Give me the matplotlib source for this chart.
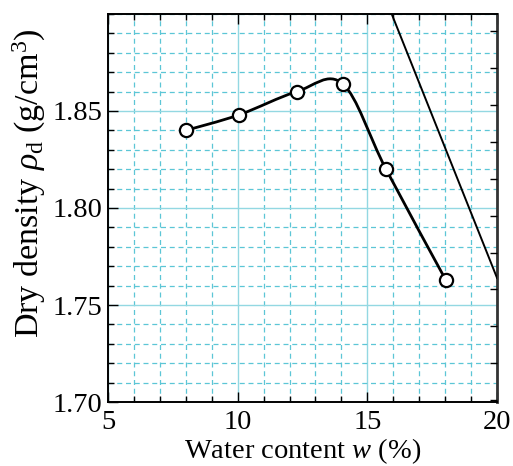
import numpy as np
import matplotlib.pyplot as plt
from matplotlib.path import Path
from matplotlib.patches import PathPatch

plt.rcParams['font.family'] = ['Liberation Serif', 'DejaVu Serif']
plt.rcParams['mathtext.fontset'] = 'custom'
plt.rcParams['mathtext.rm'] = 'Liberation Serif'
plt.rcParams['mathtext.it'] = 'Liberation Serif:italic'

# compaction test results
water_content = [8.0, 10.05, 12.28, 14.05, 15.72, 18.02]   # w (%)
dry_density = [1.840, 1.848, 1.860, 1.864, 1.820, 1.763]   # rho_d (g/cm3)

# zero air voids line (end points)
zav_w = [15.94, 20.0]
zav_rho = [1.90, 1.764]

x_ticks = [5, 10, 15, 20]
y_ticks = [1.70, 1.75, 1.80, 1.85]

grid_major = '#93d8e2'
grid_minor = '#5cc6d6'


def smooth_path(xs, ys):
    # Catmull-Rom through the points, expressed as cubic Bezier segments
    pts = np.column_stack([xs, ys])
    n = len(pts)
    verts = [pts[0]]
    codes = [Path.MOVETO]
    for i in range(n - 1):
        p0 = pts[i - 1] if i > 0 else pts[i]
        p1 = pts[i]
        p2 = pts[i + 1]
        p3 = pts[i + 2] if i + 2 < n else pts[i + 1]
        c1 = p1 + (p2 - p0) / 6.0
        c2 = p2 - (p3 - p1) / 6.0
        verts += [c1, c2, p2]
        codes += [Path.CURVE4] * 3
    return Path(verts, codes)


fig = plt.figure(figsize=(5.13, 4.66), dpi=100)
ax = fig.add_axes([0.2105, 0.1373, 0.7583, 0.8327])

ax.set_xlim(5, 20)
ax.set_ylim(1.70, 1.90)

ax.set_xticks(x_ticks)
ax.set_xticks(np.arange(5, 21, 1), minor=True)
ax.set_yticks(y_ticks)
ax.set_yticklabels([f'{v:.2f}' for v in y_ticks])
ax.set_yticks(np.arange(1.70, 1.9001, 0.01), minor=True)

ax.grid(True, which='major', color=grid_major, linestyle='-', linewidth=1.0)
ax.grid(True, which='minor', color=grid_minor, linestyle=(0, (4, 3)), linewidth=0.9)
ax.set_axisbelow(True)

ax.tick_params(which='both', direction='in', top=True, right=False,
               labelsize=20.5, width=1.0, pad=4)
ax.tick_params(axis='x', pad=6)
ax.tick_params(which='major', length=7)
ax.tick_params(which='minor', length=4)

for s in ax.spines.values():
    s.set_linewidth(1.4)
ax.spines['right'].set_color('#333333')
ax.spines['right'].set_linewidth(2.0)

# right-hand scale ticks (no labels)
ax2 = ax.twinx()
ax2.set_ylim(1.70, 1.90)
ax2.set_yticks(np.arange(1.701, 1.9, 0.019))
ax2.tick_params(axis='y', direction='in', length=5, width=1.0, labelright=False)
for s in ax2.spines.values():
    s.set_visible(False)

# zero air voids line
ax.plot(zav_w, zav_rho, color='black', linewidth=1.4, zorder=3)

# smooth compaction curve and test points
ax.add_patch(PathPatch(smooth_path(water_content, dry_density), facecolor='none',
                       edgecolor='black', linewidth=2.0, zorder=4))
ax.plot(water_content, dry_density, linestyle='none', marker='o', markersize=9.5,
        markerfacecolor='white', markeredgecolor='black', markeredgewidth=1.6, zorder=5)

ax.set_xlabel(r'Water content $w$ (%)', fontsize=20.5, labelpad=1)
ax.set_ylabel(r'Dry density $\rho_{\mathrm{d}}$ (g/cm$^3$)', fontsize=24.5)
ax.yaxis.set_label_coords(-0.155, 0.565)

fig.savefig('out.png', dpi=100)
